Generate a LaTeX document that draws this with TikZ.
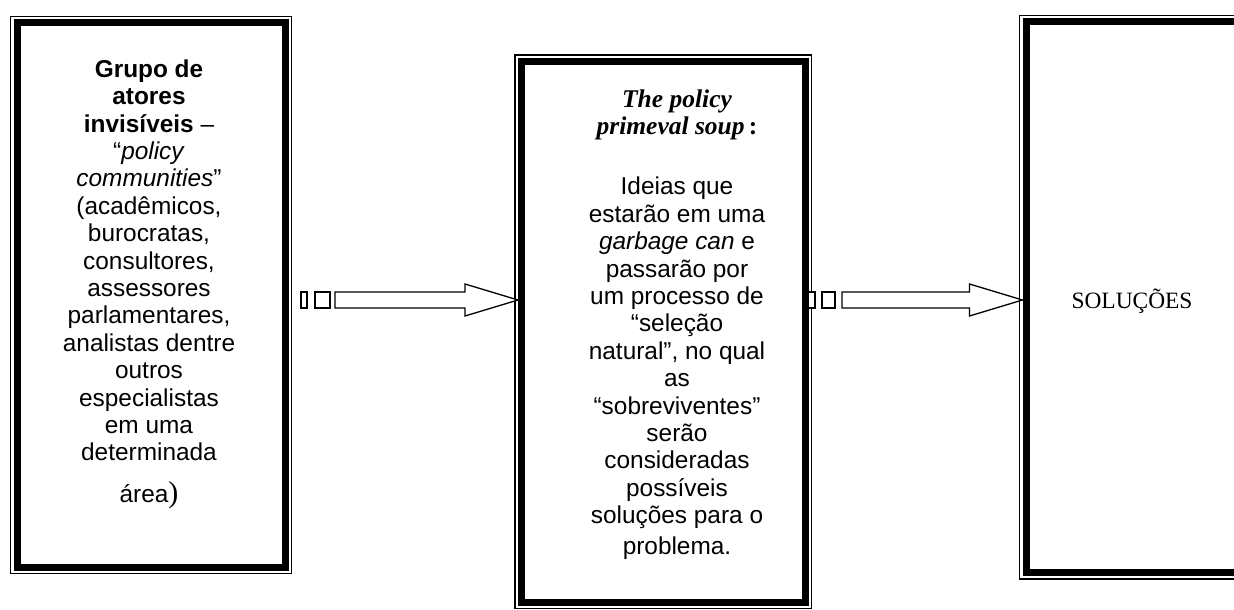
\documentclass[tikz,border=0pt]{standalone}
\usepackage{fontspec}
\setmainfont{Liberation Sans}
\newfontfamily\arialf{Liberation Sans}
\newfontfamily\timesf{Liberation Serif}
\usetikzlibrary{calc}
\tikzset{
  thickframe/.style={draw, line width=7pt, inner sep=0pt, outer sep=0pt, fill=none},
  thinframe/.style={draw, line width=1.4pt},
  blockarrow/.style={draw, line width=1.3pt, fill=white, line join=miter},
  bodytext/.style={align=center, inner sep=0pt, font=\arialf\fontsize{24.4}{27.4}\selectfont},
  titletext/.style={align=center, inner sep=0pt, font=\timesf\bfseries\itshape\fontsize{25.5}{26.5}\selectfont},
}
\begin{document}
\begin{tikzpicture}[x=1pt,y=-1pt]
\useasboundingbox (0,0) rectangle (1234,610);
\clip (0,0) rectangle (1234,610);
% boxes (thick band centre lines)
\node[thickframe, minimum width=268pt, minimum height=544pt] (L) at (151,295) {};
\node[thickframe, minimum width=283.5pt, minimum height=540.5pt] (M) at (663.25,331.75) {};
\node[thickframe, minimum width=211pt, minimum height=550.5pt] (R) at (1131.5,297.25) {};
% thin outer frames
\foreach \b in {L,M,R}{
  \draw[thinframe] ($(\b.north west)+(-6.5,-6.5)$) rectangle ($(\b.south east)+(6.5,6.5)$);
}
% texts
\node[bodytext, anchor=north] (Ltext) at (149,59.5) {%
\textbf{Grupo de}\\
\textbf{atores}\\
\textbf{invisíveis} –\\
“\textit{policy}\\
\textit{communities}”\\
(acadêmicos,\\
burocratas,\\
consultores,\\
assessores\\
parlamentares,\\
analistas dentre\\
outros\\
especialistas\\
em uma\\
determinada\\[14pt]
área{\timesf\fontsize{30}{30}\selectfont )}};
\node[titletext, anchor=north] (Mtitle) at (677,90) {The policy\\primeval soup\,{\upshape :}};
\node[bodytext, anchor=north] (Mtext) at (677,177) {%
Ideias que\\
estarão em uma\\
\textit{garbage can} e\\
passarão por\\
um processo de\\
“seleção\\
natural”, no qual\\
as\\
“sobreviventes”\\
serão\\
consideradas\\
possíveis\\
soluções para o\\[3pt]
problema.};
\node[anchor=base, inner sep=0pt, font=\timesf\fontsize{23.4}{26}\selectfont] (Rtext) at (1132,308) {SOLUÇÕES};
% arrow helpers
\coordinate (ay) at (0,300);
\coordinate (s1) at ([xshift=50pt]L.east |- ay);
\coordinate (t1) at ([xshift=-3.5pt]M.west |- ay);
\coordinate (s2) at ([xshift=37pt]M.east |- ay);
\coordinate (t2) at ([xshift=-3.5pt]R.west |- ay);
% arrow 1
\draw[blockarrow] ($(L.east |- ay)+(16,-8)$) rectangle ($(L.east |- ay)+(22,8)$);
\draw[blockarrow] ($(L.east |- ay)+(30,-8)$) rectangle ($(L.east |- ay)+(45,8)$);
\draw[blockarrow] ($(s1)+(0,-8)$) -- ($(t1)+(-53,-8)$) -- ($(t1)+(-53,-16)$) -- (t1)
  -- ($(t1)+(-53,16)$) -- ($(t1)+(-53,8)$) -- ($(s1)+(0,8)$) -- cycle;
% arrow 2
\draw[blockarrow] ($(M.east |- ay)+(3,-8)$) rectangle ($(M.east |- ay)+(10,8)$);
\draw[blockarrow] ($(M.east |- ay)+(17,-8)$) rectangle ($(M.east |- ay)+(30,8)$);
\draw[blockarrow] ($(s2)+(0,-8)$) -- ($(t2)+(-53,-8)$) -- ($(t2)+(-53,-16)$) -- (t2)
  -- ($(t2)+(-53,16)$) -- ($(t2)+(-53,8)$) -- ($(s2)+(0,8)$) -- cycle;
\end{tikzpicture}
\end{document}
